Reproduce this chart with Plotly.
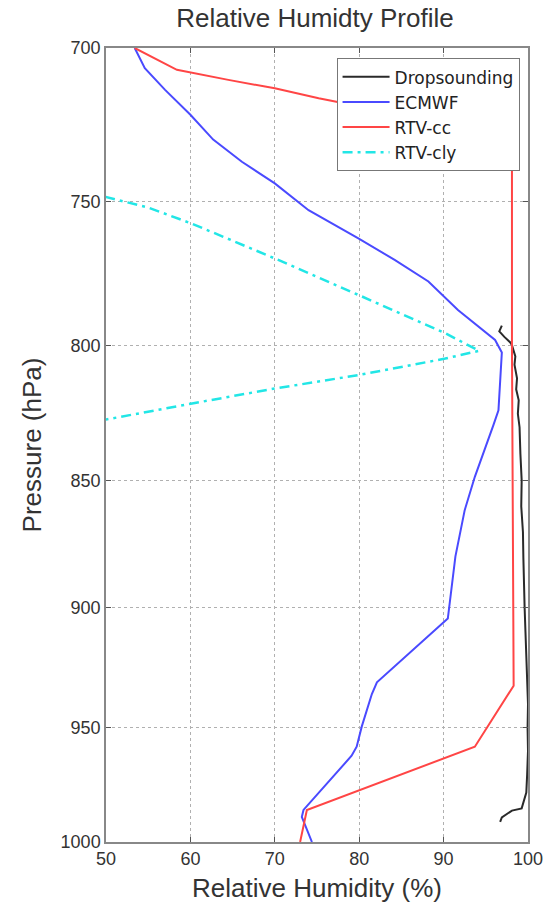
import plotly.graph_objects as go
import math

# Dropsounding
drop_rh = [96.9, 96.6, 97.2, 97.9, 98.1, 98.3, 98.5, 98.4, 98.7, 98.6, 98.9, 98.8, 99.0, 99.1,
           99.25, 99.2, 99.4, 99.45, 99.5, 99.6, 99.7, 99.8, 99.9, 100.0, 99.95, 100.0, 99.9,
           99.8, 99.25, 98.1, 96.9, 96.7]
drop_p = [793, 795, 797, 799, 800, 802, 804, 807, 812, 816, 820, 825, 830, 840,
          850, 860, 870, 880, 890, 900, 910, 920, 930, 940, 950, 960, 970,
          978, 985, 986, 989, 991]

# ECMWF
ecm_rh = [53.4, 54.6, 57.0, 60.0, 62.7, 66.1, 70.0, 74.0, 79.9, 84.2, 88.2, 91.7, 96.1, 96.9,
          96.5, 95.9, 93.7, 92.5, 91.4, 90.5, 82.1, 81.5, 80.3, 79.7, 79.1, 73.4, 73.2, 74.4]
ecm_p = [700, 706.4, 713.3, 721.3, 729.4, 736.7, 743.9, 752.9, 762.5, 769.9, 777.4, 787.4, 798.1, 802.6,
         823.7, 829.2, 848.7, 861.5, 879.6, 904.5, 930.8, 935.7, 949.5, 958.1, 962.0, 985.7, 988.8, 1000]

# RTV-cc
cc_rh = [53.4, 58.4, 64.5, 70.0, 75.2, 98.1, 98.1, 98.3, 93.7, 73.8, 73.0]
cc_p = [700, 706.9, 710.1, 712.8, 716.0, 728.4, 800, 932.2, 958.1, 985.7, 1000]

# RTV-cly
cly_rh = [49.9, 55.0, 60.2, 70.0, 79.9, 90.2, 94.2, 90.2, 79.9, 70.0, 60.2, 49.9]
cly_p = [748.4, 752.0, 757.5, 769.4, 782.1, 795.7, 802.0, 804.8, 810.8, 815.7, 821.2, 827.2]

x_ticks = [50, 60, 70, 80, 90, 100]
y_ticks = [700, 750, 800, 850, 900, 950, 1000]

FONT = "Liberation Sans, Arial, Helvetica, sans-serif"
LEGEND_FONT = "DejaVu Sans, Liberation Sans, Arial, sans-serif"

fig = go.Figure()
fig.add_trace(go.Scatter(x=drop_rh, y=drop_p, mode="lines", name="Dropsounding",
                         line=dict(color="#2a2a2a", width=2)))
fig.add_trace(go.Scatter(x=ecm_rh, y=ecm_p, mode="lines", name="ECMWF",
                         line=dict(color="#4a4aff", width=2)))
fig.add_trace(go.Scatter(x=cc_rh, y=cc_p, mode="lines", name="RTV-cc",
                         line=dict(color="#ff4545", width=2)))
fig.add_trace(go.Scatter(x=cly_rh, y=cly_p, mode="lines", name="RTV-cly",
                         line=dict(color="#22e6e6", width=2.5, dash="10px,5px,3px,5px")))

axis_common = dict(
    showline=True, linecolor="#888888", linewidth=1.5, mirror="allticks",
    ticks="inside", ticklen=5, tickcolor="#555555",
    showgrid=True, gridcolor="#b0b0b0", griddash="dot", gridwidth=1,
    zeroline=False, automargin=False,
    tickfont=dict(family=FONT, size=18, color="#333333"),
)

fig.update_layout(
    width=545, height=907,
    paper_bgcolor="white", plot_bgcolor="white",
    margin=dict(l=106, r=17, t=48, b=65),
    title=dict(text="Relative Humidty Profile", x=0.578, xanchor="center", y=0.98, yanchor="middle",
               font=dict(family=FONT, size=26, color="#333333")),
    showlegend=True,
    legend=dict(x=0.98, y=0.987, xanchor="right", yanchor="top",
                bgcolor="white", bordercolor="#777777", borderwidth=1,
                font=dict(family=LEGEND_FONT, size=17, color="#222222"),
                itemwidth=47, tracegroupgap=0),
    xaxis=dict(range=[50, 100], tickvals=x_ticks, ticktext=[str(v) for v in x_ticks],
               title=dict(text="Relative Humidity (%)", standoff=10,
                          font=dict(family=FONT, size=26, color="#333333")),
               **axis_common),
    yaxis=dict(type="log", range=[math.log10(1000), math.log10(700)], tickvals=y_ticks,
               ticktext=[str(v) for v in y_ticks],
               title=dict(text="Pressure (hPa)", standoff=12,
                          font=dict(family=FONT, size=26, color="#333333")),
               **axis_common),
)

fig.write_html("out.html", config={"displayModeBar": False},
               post_script="document.body.style.margin='0px';")
